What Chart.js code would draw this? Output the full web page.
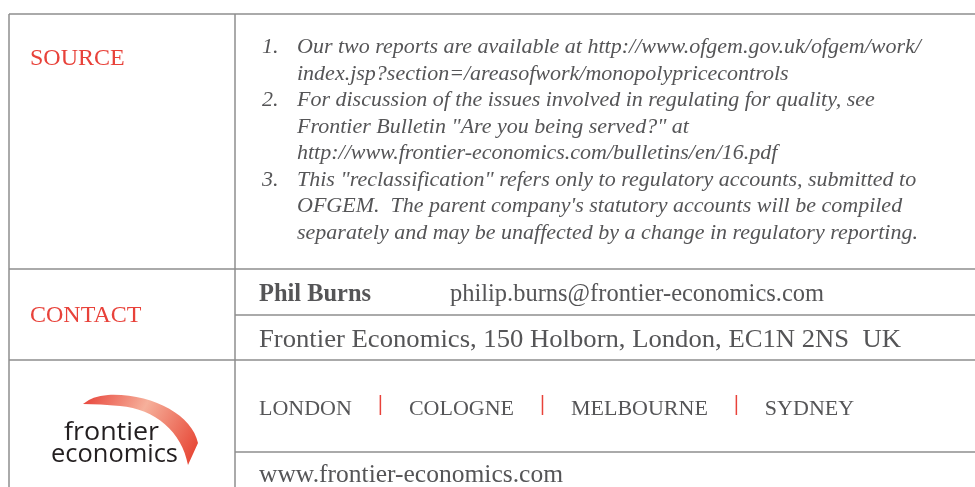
<!DOCTYPE html>
<html>
<head>
<meta charset="utf-8">
<script src="https://cdn.jsdelivr.net/npm/chart.js"></script>
<style>
  html, body { margin: 0; padding: 0; background: #fff; }
  #wrap { width: 975px; height: 487px; }
</style>
</head>
<body>
<div id="wrap"><canvas id="c" width="975" height="487"></canvas></div>
<script>
// table content
const sectionLabels = ['SOURCE', 'CONTACT'];
const noteNumbers = ['1.', '2.', '3.'];
const noteLines = [
  ['Our two reports are available at http://www.ofgem.gov.uk/ofgem/work/',
   'index.jsp?section=/areasofwork/monopolypricecontrols'],
  ['For discussion of the issues involved in regulating for quality, see',
   'Frontier Bulletin "Are you being served?" at',
   'http://www.frontier-economics.com/bulletins/en/16.pdf'],
  ['This "reclassification" refers only to regulatory accounts, submitted to',
   'OFGEM.  The parent company\'s statutory accounts will be compiled',
   'separately and may be unaffected by a change in regulatory reporting.']
];
const contactName = 'Phil Burns';
const contactEmail = 'philip.burns@frontier-economics.com';
const contactAddress = 'Frontier Economics, 150 Holborn, London, EC1N 2NS  UK';
const offices = ['LONDON', 'COLOGNE', 'MELBOURNE', 'SYDNEY'];
const website = 'www.frontier-economics.com';
const logoWords = ['frontier', 'economics'];

const GREY = '#555557';
const RED = '#e8423a';
const RULE = '#8e8e8e';
const SERIF = '"Liberation Serif", "DejaVu Serif", serif';

function rule(ctx, x1, y1, x2, y2) {
  ctx.beginPath();
  ctx.moveTo(x1, y1);
  ctx.lineTo(x2, y2);
  ctx.stroke();
}

// squeeze/stretch text horizontally into a given width
function drawFit(ctx, text, x, y, w) {
  const m = ctx.measureText(text).width;
  ctx.save();
  ctx.translate(x, y);
  ctx.scale(w / m, 1);
  ctx.fillText(text, 0, 0);
  ctx.restore();
}

function drawLogo(ctx) {
  // swoosh
  const g = ctx.createLinearGradient(83, 400, 197, 460);
  g.addColorStop(0, '#e8463c');
  g.addColorStop(0.45, '#f6b09b');
  g.addColorStop(1, '#e6402f');
  ctx.fillStyle = g;
  ctx.beginPath();
  ctx.moveTo(83, 404);
  ctx.quadraticCurveTo(92, 396, 108, 395);
  ctx.bezierCurveTo(152, 393, 192, 415, 198, 443);
  ctx.lineTo(188, 465);
  ctx.bezierCurveTo(182, 432, 155, 409, 120, 406);
  ctx.quadraticCurveTo(100, 404, 83, 404);
  ctx.fill();

  ctx.fillStyle = '#231f20';
  ctx.font = '400 26px "Open Sans", "DejaVu Sans", sans-serif';
  ctx.textAlign = 'left';
  drawFit(ctx, logoWords[0], 64, 440, 95);
  drawFit(ctx, logoWords[1], 51, 462, 127);
}

const tablePlugin = {
  id: 'footerTable',
  afterDraw(chart) {
    const ctx = chart.ctx;
    ctx.save();

    // grid
    ctx.strokeStyle = RULE;
    ctx.lineWidth = 1.5;
    rule(ctx, 9, 14, 975, 14);
    rule(ctx, 9, 14, 9, 487);
    rule(ctx, 235, 14, 235, 487);
    rule(ctx, 9, 269, 975, 269);
    rule(ctx, 235, 315, 975, 315);
    rule(ctx, 9, 360, 975, 360);
    rule(ctx, 235, 452, 975, 452);

    ctx.textBaseline = 'alphabetic';
    ctx.textAlign = 'left';

    // row headings
    ctx.fillStyle = RED;
    ctx.font = '24px ' + SERIF;
    ctx.fillText(sectionLabels[0], 30, 65);
    ctx.fillText(sectionLabels[1], 30, 322);

    // numbered notes
    ctx.fillStyle = GREY;
    ctx.font = 'italic 22px ' + SERIF;
    let y = 53;
    const step = 26.5;
    noteLines.forEach((lines, i) => {
      ctx.fillText(noteNumbers[i], 262, y);
      lines.forEach(line => {
        ctx.fillText(line, 297, y);
        y += step;
      });
    });

    // contact
    ctx.font = 'bold 25px ' + SERIF;
    drawFit(ctx, contactName, 259, 301, 112);
    ctx.font = '25px ' + SERIF;
    drawFit(ctx, contactEmail, 450, 301, 374);
    drawFit(ctx, contactAddress, 259, 347, 642);

    // offices with red separators
    ctx.font = '22px ' + SERIF;
    let x = 259;
    const gap = 28.5;
    offices.forEach((name, i) => {
      ctx.fillStyle = GREY;
      ctx.fillText(name, x, 415);
      x += ctx.measureText(name).width;
      if (i < offices.length - 1) {
        x += gap;
        ctx.fillStyle = RED;
        ctx.fillRect(x - 0.75, 395, 1.5, 20);
        x += gap;
      }
    });

    ctx.fillStyle = GREY;
    ctx.font = '25px ' + SERIF;
    drawFit(ctx, website, 259, 482, 304);

    drawLogo(ctx);
    ctx.restore();
  }
};

new Chart(document.getElementById('c'), {
  type: 'bar',
  data: { labels: [], datasets: [] },
  options: {
    responsive: false,
    animation: false,
    events: [],
    layout: { padding: 0 },
    plugins: { legend: { display: false }, tooltip: { enabled: false } },
    scales: { x: { display: false }, y: { display: false } }
  },
  plugins: [tablePlugin]
});
</script>
</body>
</html>
